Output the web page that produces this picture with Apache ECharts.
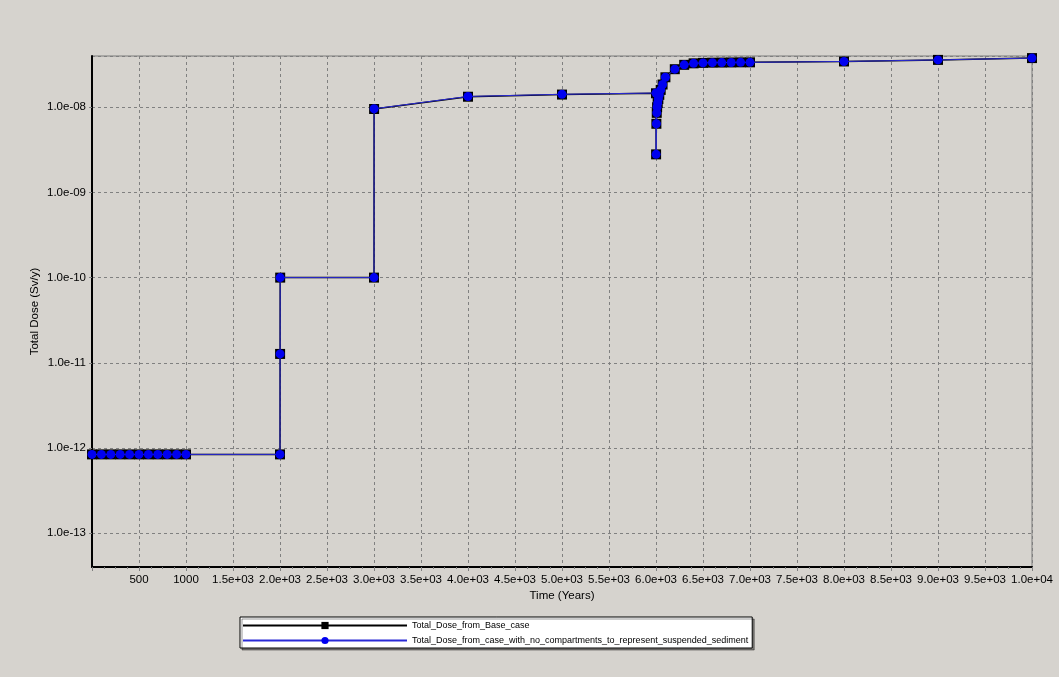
<!DOCTYPE html>
<html>
<head>
<meta charset="utf-8">
<title>Total Dose</title>
<script src="https://cdn.jsdelivr.net/npm/echarts@6/dist/echarts.min.js"></script>
<style>
  html, body { margin: 0; padding: 0; background: #d6d3ce; }
  #chart { width: 1059px; height: 677px; }
</style>
</head>
<body>
<div id="chart"></div>
<script>
// Time points (years) shared by both runs
const years = [
  0, 100, 200, 300, 400, 500, 600, 700, 800, 900, 1000,
  2000, 2001, 2002, 3000, 3001, 4000, 5000,
  6000, 6001, 6004, 6008, 6012, 6018, 6025, 6035, 6050, 6070, 6100,
  6200, 6300, 6400, 6500, 6600, 6700, 6800, 6900, 7000,
  8000, 9000, 10000
];

// Total dose (Sv/y) for the base case
const doseBaseCase = [
  8.4e-13, 8.4e-13, 8.4e-13, 8.4e-13, 8.4e-13, 8.4e-13, 8.4e-13, 8.4e-13, 8.4e-13, 8.4e-13, 8.4e-13,
  8.4e-13, 1.27e-11, 1.0e-10, 1.0e-10, 9.55e-9, 1.33e-8, 1.41e-8,
  1.46e-8, 2.8e-9, 6.4e-9, 8.6e-9, 1.0e-8, 1.12e-8, 1.25e-8, 1.4e-8, 1.6e-8, 1.85e-8, 2.25e-8,
  2.8e-8, 3.15e-8, 3.28e-8, 3.32e-8, 3.34e-8, 3.35e-8, 3.36e-8, 3.37e-8, 3.37e-8,
  3.45e-8, 3.6e-8, 3.78e-8
];

// Total dose (Sv/y) without the suspended-sediment compartments
const doseNoSediment = [
  8.4e-13, 8.4e-13, 8.4e-13, 8.4e-13, 8.4e-13, 8.4e-13, 8.4e-13, 8.4e-13, 8.4e-13, 8.4e-13, 8.4e-13,
  8.4e-13, 1.27e-11, 1.0e-10, 1.0e-10, 9.6e-9, 1.34e-8, 1.42e-8,
  1.47e-8, 2.8e-9, 6.4e-9, 8.6e-9, 1.0e-8, 1.12e-8, 1.25e-8, 1.4e-8, 1.6e-8, 1.85e-8, 2.25e-8,
  2.8e-8, 3.15e-8, 3.28e-8, 3.32e-8, 3.34e-8, 3.35e-8, 3.36e-8, 3.37e-8, 3.37e-8,
  3.45e-8, 3.6e-8, 3.78e-8
];

const seriesNames = [
  'Total_Dose_from_Base_case',
  'Total_Dose_from_case_with_no_compartments_to_represent_suspended_sediment'
];

const xTitle = 'Time (Years)';
const yTitle = 'Total Dose (Sv/y)';

function pairs(xs, ys) {
  return xs.map((x, i) => [x, ys[i]]);
}

// 1.0e+03 style with a two-digit exponent
function sci(v) {
  return v.toExponential(1).replace(/e([+-])(\d)$/, 'e$10$2');
}

const FONT = '"Liberation Sans", Arial, sans-serif';

const chart = echarts.init(document.getElementById('chart'), null, { renderer: 'canvas' });

chart.setOption({
  animation: false,
  backgroundColor: '#d6d3ce',
  textStyle: { fontFamily: FONT },
  grid: {
    left: 92,
    right: 27,
    top: 56,
    bottom: 110,
    show: true,
    borderColor: '#7a7a7a',
    borderWidth: 1,
    backgroundColor: 'transparent',
    containLabel: false,
    outerBoundsMode: 'none'
  },
  xAxis: {
    type: 'value',
    min: 0,
    max: 10000,
    interval: 500,
    name: xTitle,
    nameLocation: 'middle',
    nameGap: 23,
    nameMoveOverlap: false,
    nameTextStyle: { color: '#000', fontSize: 11.5, fontFamily: FONT },
    axisLine: { show: true, onZero: false, lineStyle: { color: '#000', width: 2 } },
    axisTick: { show: true, length: 4, lineStyle: { color: '#808080' } },
    minorTick: { show: true, splitNumber: 4, length: 2, lineStyle: { color: '#808080' } },
    axisLabel: {
      color: '#000',
      fontSize: 11.5,
      fontFamily: FONT,
      margin: 7,
      showMinLabel: false,
      formatter: v => (v === 0 ? '' : (v <= 1000 ? String(v) : sci(v)))
    },
    splitLine: {
      show: true,
      lineStyle: { color: '#808080', width: 1, type: [3, 3] }
    }
  },
  yAxis: {
    type: 'log',
    logBase: 10,
    min: 4e-14,
    max: 4e-8,
    name: yTitle,
    nameLocation: 'middle',
    nameGap: 51,
    nameMoveOverlap: false,
    nameTextStyle: { color: '#000', fontSize: 11.5, fontFamily: FONT },
    axisLine: { show: true, onZero: false, lineStyle: { color: '#000', width: 2 } },
    axisTick: { show: true, length: 5, lineStyle: { color: '#808080', type: [3, 2] } },
    axisLabel: {
      color: '#000',
      fontSize: 11.5,
      fontFamily: FONT,
      margin: 6,
      showMinLabel: false,
      showMaxLabel: false,
      formatter: v => sci(v)
    },
    splitLine: {
      show: true,
      lineStyle: { color: '#808080', width: 1, type: [3, 3] }
    }
  },
  legend: {
    orient: 'vertical',
    left: 240,
    top: 617,
    padding: [4, 4, 3, 2],
    itemWidth: 164,
    itemHeight: 9,
    itemGap: 6,
    backgroundColor: '#ffffff',
    borderColor: '#000',
    borderWidth: 1,
    shadowColor: 'rgba(0,0,0,0.4)',
    shadowOffsetX: 2,
    shadowOffsetY: 2,
    shadowBlur: 0,
    textStyle: { color: '#000', fontSize: 9, fontFamily: FONT },
    data: seriesNames
  },
  series: [
    {
      name: seriesNames[0],
      type: 'line',
      data: pairs(years, doseBaseCase),
      symbol: 'rect',
      symbolSize: 10,
      showAllSymbol: true,
      clip: true,
      itemStyle: { color: '#000000' },
      lineStyle: { color: '#000000', width: 1.5 },
      z: 2
    },
    {
      name: seriesNames[1],
      type: 'line',
      data: pairs(years, doseNoSediment),
      symbol: 'circle',
      symbolSize: 9,
      showAllSymbol: true,
      clip: true,
      itemStyle: { color: '#0000f0' },
      lineStyle: { color: '#2a2ad6', width: 1 },
      z: 3
    }
  ]
});
</script>
</body>
</html>
